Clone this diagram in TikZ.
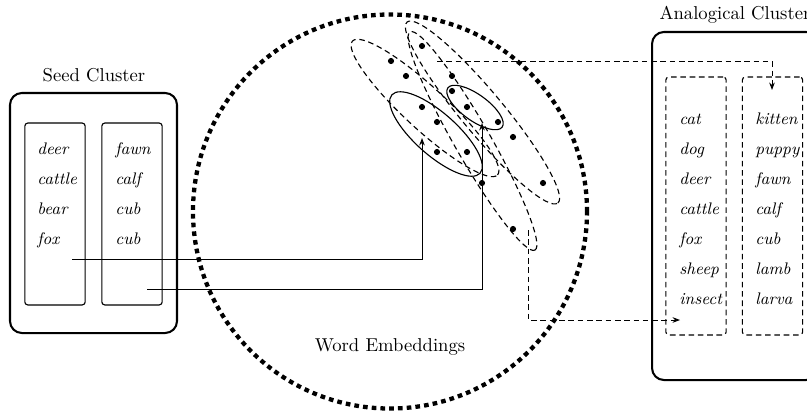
\documentclass[tikz,border=0pt]{standalone}
\usepackage{tikz}
\usetikzlibrary{shapes.geometric,arrows.meta,positioning}
\tikzset{
  cluster/.style ={rectangle, rounded corners=6.4pt, draw, line width=1.1pt, inner sep=0pt},
  colbox/.style  ={rectangle, rounded corners=1.6pt, draw, line width=0.6pt, inner sep=0pt,
                   minimum width=32.4pt},
  dcolbox/.style ={colbox, dash pattern=on 3pt off 2pt},
  word/.style    ={font=\small\itshape, inner sep=0pt, anchor=base west},
  heading/.style ={font=\normalsize, inner sep=0pt},
  dot/.style     ={circle, fill, inner sep=0pt, minimum size=3.3pt},
  grp/.style     ={ellipse, draw, line width=0.6pt, inner sep=0pt},
  dgrp/.style    ={grp, dash pattern=on 3pt off 2pt},
  embring/.style ={circle, draw, line width=2.3pt, dash pattern=on 2.5pt off 2.2pt,
                   inner sep=0pt, minimum size=211.6pt},
  link/.style    ={-{Stealth[length=4pt,width=3pt]}, line width=0.5pt},
  dlink/.style   ={link, dash pattern=on 3pt off 2pt}
}
\begin{document}
\begin{tikzpicture}[x=0.537pt, y=-0.537pt]
\useasboundingbox (0,0) rectangle (807,414);
\clip (0,0) rectangle (807,414);
% seed cluster
\node[heading] (seedtitle) at (94,75) {Seed Cluster};
\node[cluster, minimum width=89.7pt, minimum height=128.9pt] (seed) at (93.5,213) {};
\node[colbox, minimum height=97.7pt] (seedL) at (55,214) {};
\node[colbox, minimum height=97.7pt] (seedR) at (132,214) {};
\foreach \w [count=\i] in {deer,cattle,bear,fox}
  \node[word] (sl\i) at (37,124+30*\i) {\w};
\foreach \w [count=\i] in {fawn,calf,cub,cub}
  \node[word] (sr\i) at (115,124+30*\i) {\w};
% word embeddings
\node[embring] (emb) at (390,211.5) {};
\node[heading] (embtitle) at (390,347) {Word Embeddings};
\node[dgrp, minimum width=106pt, minimum height=22.6pt, rotate=-42.7] (grpA) at (425,108) {};
\node[dgrp, minimum width=126.5pt, minimum height=22.6pt, rotate=-50.2] (grpB) at (482.5,112.5) {};
\node[dgrp, minimum width=135pt, minimum height=19.3pt, rotate=-60.2] (grpC) at (472.5,141) {};
\node[grp, minimum width=63.4pt, minimum height=22.6pt, rotate=-41.6] (grpD) at (436,134) {};
\node[grp, minimum width=36pt, minimum height=14pt, rotate=-35.8] (grpE) at (475,107.5) {};
\foreach \p [count=\i] in {(422,46),(391,61),(406,76),(452,76),(452,91),(422,107),(467,107),
    (437,122),(498,122),(513,137),(437,152),(467,152),(482,183),(543,183),(513,229)}
  \node[dot] (d\i) at \p {};
% analogical cluster
\node[heading] (anatitle) at (735,15) {Analogical Cluster};
\node[cluster, minimum width=89.1pt, minimum height=186.9pt] (ana) at (735,206) {};
\node[dcolbox, minimum height=138.5pt] (anaL) at (696,206) {};
\node[dcolbox, minimum height=138.5pt] (anaR) at (772.5,206) {};
\foreach \w [count=\i] in {cat,dog,deer,cattle,fox,sheep,insect}
  \node[word] (al\i) at (679,94+30*\i) {\w};
\foreach \w [count=\i] in {kitten,puppy,fawn,calf,cub,lamb,larva}
  \node[word] (ar\i) at (755,94+30*\i) {\w};
% connectors
\coordinate (foxpt) at (72,259);
\coordinate (cubpt) at (147,289);
\coordinate (tipA) at (422,138);
\coordinate (tipB) at (482,123);
\coordinate (topsrc) at (437,61);
\coordinate (kitpt) at (772,90);
\coordinate (botsrc) at (528,230);
\coordinate (inspt) at (680,320);
\draw[link] (foxpt) -| (tipA);
\draw[link] (cubpt) -| (tipB);
\draw[dlink] (topsrc) -| (kitpt);
\draw[dlink] (botsrc) |- (inspt);
\end{tikzpicture}
\end{document}
